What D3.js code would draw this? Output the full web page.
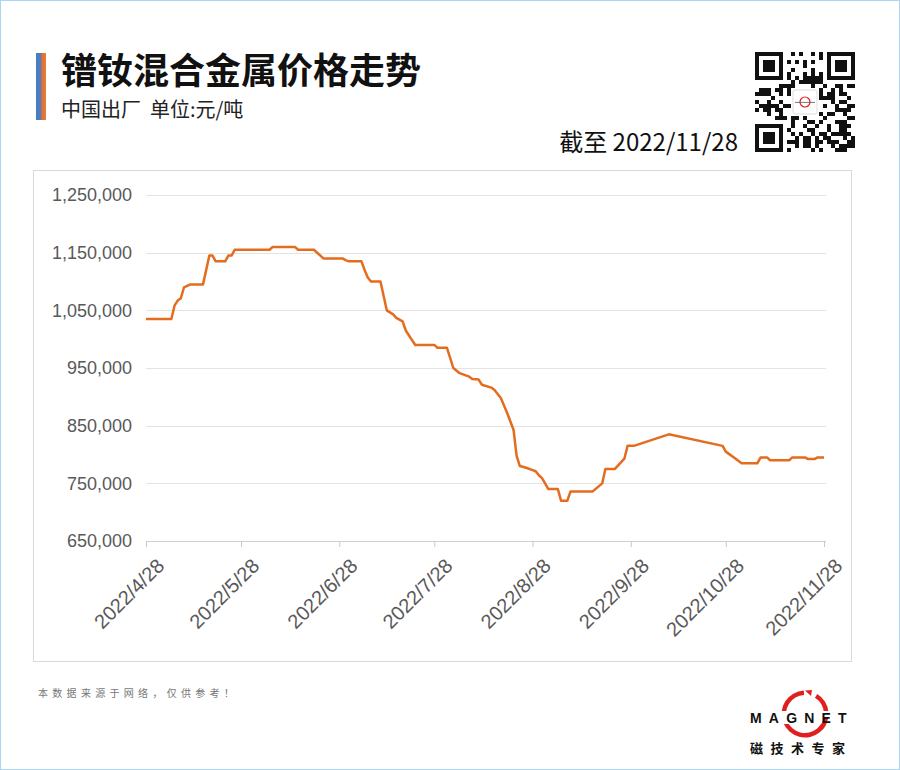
<!DOCTYPE html>
<html><head><meta charset="utf-8">
<script src="https://cdn.jsdelivr.net/npm/d3@7"></script>
<style>
html,body{margin:0;padding:0;background:#fff;}
svg{display:block;}
</style></head>
<body>
<svg id="c" width="900" height="770"></svg>
<script>
// ---- data ----
const title = "镨钕混合金属价格走势";
const subtitle = "中国出厂  单位:元/吨";
const asOf = "截至 2022/11/28";
const footnote = "本数据来源于网络，仅供参考！";
const dates = ["2022-04-28","2022-05-06","2022-05-07","2022-05-08","2022-05-09","2022-05-10","2022-05-12","2022-05-16","2022-05-18","2022-05-19","2022-05-20","2022-05-23","2022-05-24","2022-05-25","2022-05-26","2022-06-06","2022-06-07","2022-06-14","2022-06-15","2022-06-20","2022-06-23","2022-06-29","2022-06-30","2022-07-01","2022-07-05","2022-07-06","2022-07-07","2022-07-08","2022-07-11","2022-07-13","2022-07-15","2022-07-16","2022-07-18","2022-07-19","2022-07-21","2022-07-22","2022-07-28","2022-07-29","2022-08-01","2022-08-03","2022-08-05","2022-08-08","2022-08-09","2022-08-11","2022-08-12","2022-08-15","2022-08-16","2022-08-18","2022-08-20","2022-08-22","2022-08-23","2022-08-24","2022-08-26","2022-08-28","2022-08-29","2022-08-30","2022-08-31","2022-09-02","2022-09-05","2022-09-06","2022-09-08","2022-09-09","2022-09-16","2022-09-19","2022-09-20","2022-09-23","2022-09-26","2022-09-27","2022-09-29","2022-10-10","2022-10-27","2022-10-28","2022-10-31","2022-11-02","2022-11-07","2022-11-08","2022-11-10","2022-11-11","2022-11-17","2022-11-18","2022-11-22","2022-11-23","2022-11-25","2022-11-26","2022-11-28"];
const prices = [1035000,1035000,1058000,1067000,1071000,1090000,1095000,1095000,1145000,1145000,1135000,1135000,1145000,1145000,1155000,1155000,1160000,1160000,1155000,1155000,1140000,1140000,1137000,1135000,1135000,1120000,1107000,1100000,1100000,1050000,1043000,1037000,1031000,1015000,998000,990000,990000,985000,985000,950000,941000,935000,931000,930000,921000,916000,912000,898000,872000,843000,797000,780000,777000,773000,771000,764000,759000,740000,740000,720000,720000,736000,736000,750000,775000,775000,793000,815000,815000,835000,815000,805000,793000,785000,785000,795000,795000,790000,790000,795000,795000,792000,792000,795000,795000];
const yTicks = [650000,750000,850000,950000,1050000,1150000,1250000];
const xTickDates = ["2022-04-28","2022-05-28","2022-06-28","2022-07-28","2022-08-28","2022-09-28","2022-10-28","2022-11-28"];
const xTickLabels = ["2022/4/28","2022/5/28","2022/6/28","2022/7/28","2022/8/28","2022/9/28","2022/10/28","2022/11/28"];

// ---- drawing ----
const svg = d3.select("#c");
const parse = d3.timeParse("%Y-%m-%d");
const data = dates.map((d,i)=>({date:parse(d), v:prices[i]}));

svg.append("rect").attr("x",0.5).attr("y",0.5).attr("width",899).attr("height",769)
  .attr("fill","#fff").attr("stroke","#a9d6f0").attr("stroke-width",1);

const defs = svg.append("defs");
const g1 = defs.append("linearGradient").attr("id","acc").attr("x1","0").attr("x2","1").attr("y1","0").attr("y2","0");
g1.append("stop").attr("offset","0%").attr("stop-color","#3f7fc4");
g1.append("stop").attr("offset","45%").attr("stop-color","#5a7bb8");
g1.append("stop").attr("offset","60%").attr("stop-color","#d8703e");
g1.append("stop").attr("offset","100%").attr("stop-color","#ee7a2c");
svg.append("rect").attr("x",36).attr("y",53).attr("width",10).attr("height",67).attr("fill","url(#acc)");

const cjk = "'Noto Sans CJK SC','Noto Sans',sans-serif";
svg.append("text").attr("x",61).attr("y",84).attr("font-family",cjk).attr("font-weight","bold")
  .attr("font-size",36).attr("fill","#111").text(title);
svg.append("text").attr("x",61).attr("y",117).attr("font-family",cjk)
  .attr("font-size",20).attr("fill","#222").attr("xml:space","preserve").style("white-space","pre").text(subtitle);
svg.append("text").attr("x",738).attr("y",151).attr("text-anchor","end").attr("font-family",cjk)
  .attr("font-size",24).attr("fill","#111").text(asOf);

// QR-like decoration
(function(){
  const x0=755,y0=52,n=25,s=4;
  const q=svg.append("g");
  q.append("rect").attr("x",x0).attr("y",y0).attr("width",n*s).attr("height",n*s).attr("fill","#fff");
  function finder(cx,cy){
    q.append("rect").attr("x",x0+cx*s).attr("y",y0+cy*s).attr("width",7*s).attr("height",7*s).attr("fill","#111");
    q.append("rect").attr("x",x0+(cx+1)*s).attr("y",y0+(cy+1)*s).attr("width",5*s).attr("height",5*s).attr("fill","#fff");
    q.append("rect").attr("x",x0+(cx+2)*s).attr("y",y0+(cy+2)*s).attr("width",3*s).attr("height",3*s).attr("fill","#111");
  }
  const cells=[];
  for(let i=0;i<n;i++)for(let j=0;j<n;j++){
    const inF=(i<8&&j<8)||(i<8&&j>=n-8)||(i>=n-8&&j<8);
    const inC=(i>=9&&i<=15&&j>=9&&j<=15);
    if(inF||inC)continue;
    const h=((i*73856093)^(j*19349663)^(i*j*83492791))>>>0;
    if((h%7)<3 || (i===6&&j%2===0) || (j===6&&i%2===0)) cells.push([i,j]);
  }
  q.selectAll("rect.m").data(cells).enter().append("rect").attr("class","m")
    .attr("x",d=>x0+d[1]*s).attr("y",d=>y0+d[0]*s).attr("width",s).attr("height",s).attr("fill","#111");
  finder(0,0);finder(n-7,0);finder(0,n-7);
  q.append("rect").attr("x",x0+9.5*s).attr("y",y0+9.5*s).attr("width",6*s).attr("height",6*s).attr("fill","#fff").attr("stroke","#ddd").attr("rx",2);
  q.append("circle").attr("cx",x0+12.5*s).attr("cy",y0+12.5*s).attr("r",5).attr("fill","none").attr("stroke","#d22").attr("stroke-width",1.2);
  q.append("line").attr("x1",x0+10*s).attr("x2",x0+15*s).attr("y1",y0+12.6*s).attr("y2",y0+12.6*s).attr("stroke","#555").attr("stroke-width",0.8);
})();

svg.append("rect").attr("x",33.5).attr("y",170.5).attr("width",818).attr("height",491)
  .attr("fill","#fff").attr("stroke","#d9d9d9").attr("stroke-width",1);

const x = d3.scaleTime().domain([parse("2022-04-28"), parse("2022-11-28")]).range([146, 824]);
const y = d3.scaleLinear().domain([650000,1250000]).range([541, 195]);

svg.append("g").selectAll("line").data(yTicks).enter().append("line")
  .attr("x1",146).attr("x2",826).attr("y1",d=>Math.round(y(d))+0.5).attr("y2",d=>Math.round(y(d))+0.5)
  .attr("stroke",d=>d===650000?"#d0d0d0":"#e3e3e3").attr("stroke-width",1);

const yAxis = d3.axisLeft(y).tickValues(yTicks).tickFormat(d3.format(",")).tickSize(0).tickPadding(0);
const ya = svg.append("g").attr("transform","translate(132,0)").call(yAxis);
ya.select(".domain").remove();
ya.selectAll("text").attr("font-family","'Liberation Sans',Arial,sans-serif").attr("font-size",18).attr("fill","#595959");

const xAxis = d3.axisBottom(x).tickValues(xTickDates.map(parse))
  .tickFormat((d,i)=>xTickLabels[i]).tickSize(6).tickSizeOuter(0).tickPadding(4);
const xa = svg.append("g").attr("transform","translate(0,541)").call(xAxis);
xa.select(".domain").attr("stroke","#d0d0d0");
xa.selectAll(".tick line").attr("stroke","#c8c8c8");
xa.selectAll("text").attr("font-family","'Liberation Sans',Arial,sans-serif").attr("font-size",20).attr("fill","#595959")
  .attr("text-anchor","end").attr("dy","0.35em").attr("dx","0")
  .attr("transform","translate(7,14) rotate(-45)");

const line = d3.line().x(d=>x(d.date)).y(d=>y(d.v));
svg.append("path").datum(data).attr("d",line).attr("fill","none")
  .attr("stroke","#e46c1e").attr("stroke-width",2.5).attr("stroke-linejoin","round");

svg.append("text").attr("x",38).attr("y",697).attr("font-family",cjk).attr("font-size",10)
  .attr("fill","#777").attr("letter-spacing",4.3).text(footnote);

const lg = svg.append("g");
const arc = d3.arc().innerRadius(19).outerRadius(23.5).startAngle(0.55).endAngle(2*Math.PI-0.05);
lg.append("path").attr("d",arc).attr("transform","translate(805,714)").attr("fill","#e02020");
lg.append("path").attr("d","M805,690.5 L812,690 L811,696 Z").attr("fill","#e02020");
lg.append("rect").attr("x",749).attr("y",711).attr("width",101).attr("height",13).attr("fill","#fff");
lg.append("path").attr("d",d3.arc().innerRadius(19).outerRadius(23.5).startAngle(Math.PI*0.55).endAngle(Math.PI*0.75)())
  .attr("transform","translate(805,714)").attr("fill","#e02020");
lg.append("text").attr("x",750).attr("y",723).attr("font-family","'Liberation Sans',Arial,sans-serif")
  .attr("font-weight","bold").attr("font-size",14).attr("letter-spacing",7.2).attr("fill","#111").text("MAGNET");
lg.append("text").attr("x",750).attr("y",753).attr("font-family",cjk).attr("font-weight","bold")
  .attr("font-size",13).attr("letter-spacing",7.5).attr("fill","#111").text("磁技术专家");
</script>
</body></html>
